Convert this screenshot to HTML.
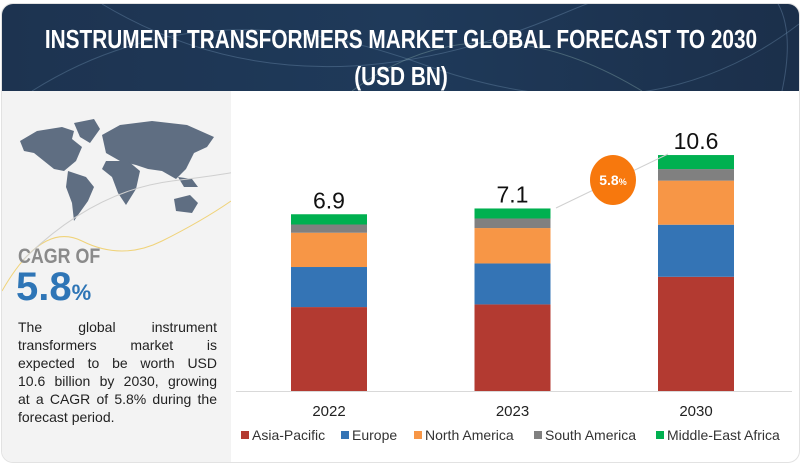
<!DOCTYPE html>
<html><head><meta charset="utf-8"><style>
html,body{margin:0;padding:0;background:#fff;}
body{width:801px;height:465px;position:relative;overflow:hidden;font-family:"Liberation Sans",sans-serif;}
#card{position:absolute;left:1px;top:3px;width:797px;height:458px;border:1px solid #e2e2e2;border-radius:12px;overflow:hidden;background:#fff;}
#header{position:absolute;left:0;top:0;width:797px;height:87px;background:linear-gradient(90deg,#1d3350,#1f3a5a 50%,#1b2f4a);}
.tl{position:absolute;left:50%;color:#fff;font-weight:bold;font-size:26px;line-height:30px;white-space:nowrap;transform:translateX(-50%) scaleX(0.8);transform-origin:center;}
#left{position:absolute;left:0;top:87px;width:229px;height:371px;background:#f3f3f3;}
#cagr-lbl{position:absolute;left:16px;top:154px;font-size:21px;font-weight:bold;color:#8a8a8a;transform:scaleX(0.85);transform-origin:left;}
#cagr-val{position:absolute;left:14px;top:174px;font-size:40px;color:#2e75b6;font-weight:bold;}
#cagr-val span{font-size:22px;}
#desc{position:absolute;left:16px;top:227px;width:199px;font-size:14px;line-height:18px;color:#222;}
#desc div{text-align:justify;text-align-last:justify;white-space:nowrap;}
#desc div.last{text-align-last:left;}
</style></head><body>
<div id="card">
<div id="header">
<svg width="797" height="87" style="position:absolute;left:0;top:0">
<path d="M30 87 Q200 -20 420 60 T797 20" stroke="#5a7a98" stroke-width="1" fill="none" opacity="0.5"/>
<path d="M100 0 Q300 120 560 10 T780 87" stroke="#6f8fae" stroke-width="1" fill="none" opacity="0.4"/>
<path d="M350 87 Q480 -10 640 87" stroke="#8aa" stroke-width="1" fill="none" opacity="0.4"/>
</svg>
<div class="tl" style="top:20px">INSTRUMENT TRANSFORMERS MARKET GLOBAL FORECAST TO 2030</div>
<div class="tl" style="top:57px">(USD BN)</div>
</div>
<div id="left">
<svg width="229" height="371" style="position:absolute;left:0;top:0">
<g fill="#5f6e82">
<path d="M18 50 L35 40 L60 36 L72 40 L70 48 L80 56 L74 70 L62 80 L52 78 L42 70 L32 62 L22 60 Z"/>
<path d="M72 32 L92 28 L98 38 L88 52 L78 46 Z"/>
<path d="M66 80 L84 86 L92 96 L86 110 L76 124 L72 130 L70 112 L64 96 Z"/>
<path d="M100 44 L118 34 L150 30 L185 34 L212 46 L205 56 L192 62 L184 78 L174 88 L160 80 L146 78 L134 74 L118 70 L104 62 Z"/>
<path d="M104 70 L126 70 L138 80 L134 98 L124 114 L116 102 L110 86 L100 78 Z"/>
<path d="M172 108 L188 104 L196 112 L190 122 L174 120 Z"/>
<path d="M176 86 L190 88 L196 96 L182 96 Z"/>
</g>
<path d="M0 200 Q40 130 80 150 T160 150 T229 110" stroke="#f0d37a" stroke-width="1" fill="none"/>
<path d="M20 170 Q90 100 170 90 T229 80" stroke="#cfcfcf" stroke-width="1" fill="none"/>
</svg>
<div id="cagr-lbl">CAGR OF</div>
<div id="cagr-val">5.8<span>%</span></div>
<div id="desc">
<div>The global instrument</div>
<div>transformers market is</div>
<div>expected to be worth USD</div>
<div>10.6 billion by 2030, growing</div>
<div>at a CAGR of 5.8% during the</div>
<div class="last">forecast period.</div>
</div>
</div>
</div>
<svg id="chart" width="801" height="465" style="position:absolute;left:0;top:0"></svg>
<script>
const years = ["2022","2023","2030"];
const totals = ["6.9","7.1","10.6"];
const asiaPacific = [3.77,3.89,5.13];
const europe = [1.80,1.84,2.34];
const northAmerica = [1.54,1.59,1.98];
const southAmerica = [0.37,0.43,0.52];
const middleEastAfrica = [0.46,0.45,0.63];
const seriesNames = ["Asia-Pacific","Europe","North America","South America","Middle-East Africa"];
const colors = ["#b33a31","#3474b5","#f79646","#808080","#00b050"];
const series = [asiaPacific,europe,northAmerica,southAmerica,middleEastAfrica];
const NS="http://www.w3.org/2000/svg";
const svg=document.getElementById('chart');
const baseY=391, pxPerUnit=22.26, barW=76;
const x0=329, xStep=183.5;
function y(v){return baseY - v*pxPerUnit;}
function x(i){return x0 + i*xStep;}
function mk(t,a){const e=document.createElementNS(NS,t);for(const k in a)e.setAttribute(k,a[k]);svg.appendChild(e);return e;}
const ax=mk('line',{x1:236,y1:391.5,x2:792,y2:391.5,stroke:'#d9d9d9','stroke-width':1});


years.forEach((yr,i)=>{
  let cum=0;
  series.forEach((s,k)=>{
    const r=mk('rect',{x:x(i)-barW/2,y:y(cum+s[i]),width:barW,height:s[i]*pxPerUnit,fill:colors[k]});
    
    
    cum+=s[i];
  });
  const tl=mk('text',{x:x(i),y:y(cum)-6,'text-anchor':'middle','font-size':23,fill:'#111','font-family':'Liberation Sans, sans-serif'});
  tl.textContent=totals[i];
  
  
  const xl=mk('text',{x:x(i),y:416,'text-anchor':'middle','font-size':15,fill:'#222','font-family':'Liberation Sans, sans-serif'});
  xl.textContent=yr;
  
  
});
const arrow=mk('line',{x1:556,y1:208,x2:668,y2:154,stroke:'#d0d0d0','stroke-width':1});


const bub=mk('ellipse',{cx:613,cy:180,rx:23,ry:25,fill:'#f7780d'});


const bt=mk('text',{x:613,y:185,'text-anchor':'middle',fill:'#fff','font-size':14,'font-weight':'bold','font-family':'Liberation Sans, sans-serif'});
bt.innerHTML='5.8<tspan font-size="9">%</tspan>';


const legX=[241,341,414,534,656];
seriesNames.forEach((n,k)=>{
  const r=mk('rect',{x:legX[k],y:431,width:8,height:8,fill:colors[k]});
  
  
  const t=mk('text',{x:legX[k]+11,y:440,'font-size':14,fill:'#333','font-family':'Liberation Sans, sans-serif'});
  t.textContent=n;
  
  
});
</script>
</body></html>
